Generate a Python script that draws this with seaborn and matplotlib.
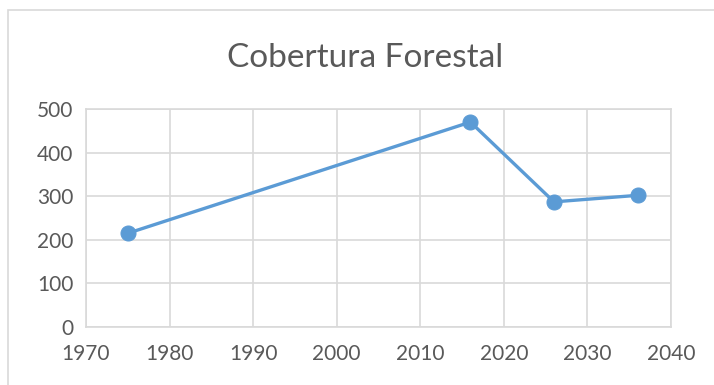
import matplotlib
matplotlib.use("Agg")
import matplotlib.pyplot as plt
import seaborn as sns
import pandas as pd
from matplotlib.patches import Rectangle

# Forest cover by year
years = [1975, 2016, 2026, 2036]
cover = [215, 470, 287, 302]
x_ticks = [1970, 1980, 1990, 2000, 2010, 2020, 2030, 2040]
y_ticks = [0, 100, 200, 300, 400, 500]
title = "Cobertura Forestal"

sns.set_theme(style="white")
plt.rcParams["font.family"] = ["Lato", "DejaVu Sans"]

text_color = "#595959"
grid_color = "#d9d9d9"
line_color = "#5b9bd5"

df = pd.DataFrame({"year": years, "cover": cover})

fig = plt.figure(figsize=(7.14, 3.85), dpi=100)
fig.patch.set_facecolor("white")
ax = fig.add_axes([86 / 714, 1 - 327 / 385, 585 / 714, 218 / 385])

sns.lineplot(data=df, x="year", y="cover", ax=ax, color=line_color,
             linewidth=2.4, marker="o", markersize=10.8,
             markeredgecolor=line_color, markerfacecolor=line_color,
             clip_on=False, zorder=3)

ax.set_xlim(1970, 2040)
ax.set_ylim(0, 500)
ax.set_xticks(x_ticks)
ax.set_yticks(y_ticks)
ax.set_xlabel("")
ax.set_ylabel("")
ax.grid(True, color=grid_color, linewidth=1.2)
ax.set_axisbelow(True)
for side in ["top", "right", "left", "bottom"]:
    ax.spines[side].set_visible(True)
    ax.spines[side].set_color(grid_color)
    ax.spines[side].set_linewidth(1.2)
ax.tick_params(axis="both", length=0, labelsize=15, colors=text_color)
ax.tick_params(axis="x", pad=12)
ax.tick_params(axis="y", pad=9)

fig.text(365 / 714, 1 - 58 / 385, title, ha="center", va="center",
         fontsize=24, color=text_color)

# chart-area frame
fig.patches.append(Rectangle((8 / 714, -0.1), 1.2, 1 - 10 / 385 + 0.1,
                             transform=fig.transFigure, fill=False,
                             edgecolor=grid_color, linewidth=1.2))

fig.savefig("out.png", dpi=100)
